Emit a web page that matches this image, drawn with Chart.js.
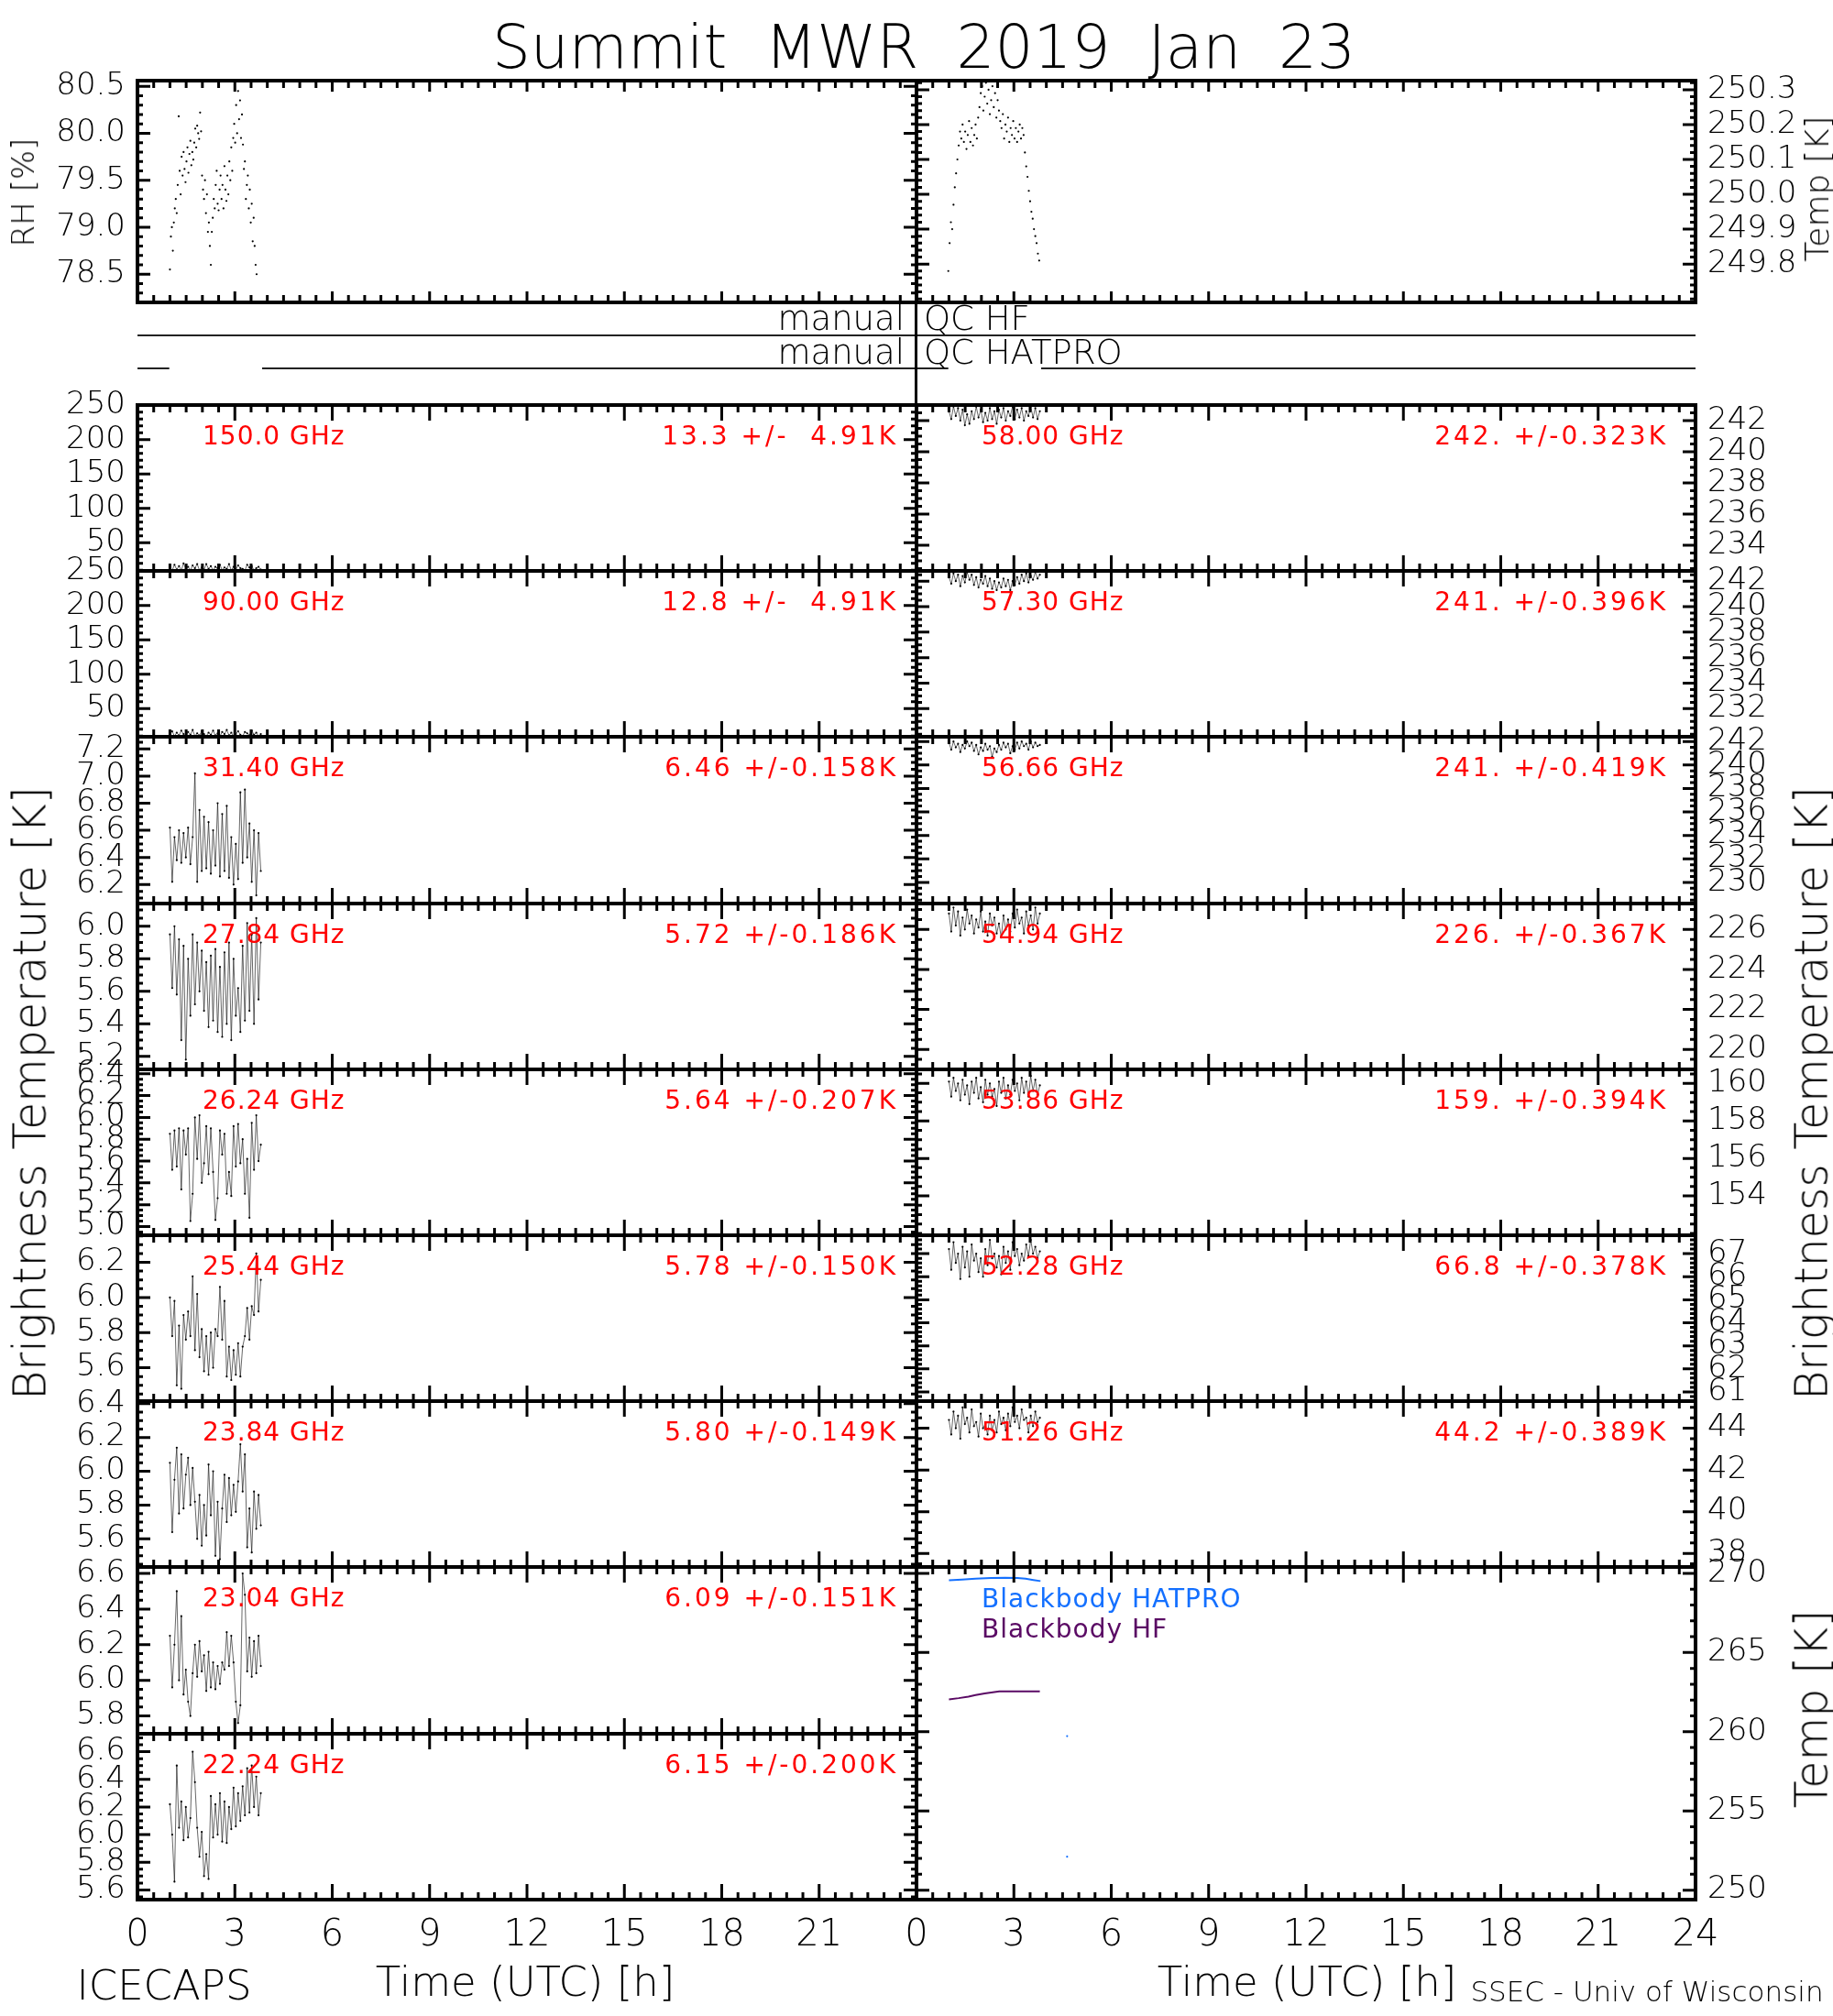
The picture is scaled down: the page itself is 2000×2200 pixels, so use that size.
<!DOCTYPE html>
<html>
<head>
<meta charset="utf-8">
<title>Summit MWR 2019 Jan 23</title>
<script src="https://cdn.jsdelivr.net/npm/chart.js@4.4.1/dist/chart.umd.min.js"></script>
<style>
  html, body { margin: 0; padding: 0; background: #fff; }
  #page { position: relative; width: 2000px; height: 2200px; overflow: hidden; font-family: 'DejaVu Sans', 'Liberation Sans', sans-serif; font-weight: 200; }
  #page canvas { position: absolute; }
  .t { position: absolute; white-space: pre; line-height: 1; color: #000; }
</style>
</head>
<body>
<div id="page"></div>
<script>
// sample times [h UTC] shared by the channel traces
const chTime = [1.00,1.07,1.14,1.21,1.28,1.35,1.42,1.49,1.56,1.63,1.70,1.77,1.84,1.91,1.98,2.05,2.12,2.19,2.26,2.33,2.40,2.47,2.54,2.61,2.68,2.75,2.82,2.89,2.96,3.03,3.10,3.17,3.24,3.31,3.38,3.45,3.52,3.59,3.66,3.73,3.80];

// HF / HATPRO low channels (left column)
const tb150  = [14,10,18,11,16,10,20,12,15,10,17,13,19,10,14,11,19,12,16,10,15,13,18,10,14,12,19,10,15,11,17,13,12,10,18,14,16,10,13,15,11];
const tb90   = [12,17,10,15,11,18,13,10,16,12,19,10,14,11,17,13,10,15,12,18,11,14,10,16,13,19,11,15,10,13,17,12,10,16,14,11,18,12,15,10,13];
const tb3140 = [6.62,6.22,6.55,6.38,6.60,6.36,6.58,6.40,6.62,6.35,6.55,7.02,6.22,6.75,6.30,6.70,6.32,6.66,6.28,6.60,6.34,6.80,6.26,6.72,6.30,6.78,6.25,6.55,6.20,6.50,6.24,6.88,6.36,6.90,6.40,6.65,6.22,6.60,6.12,6.58,6.30];
const tb2784 = [5.95,5.62,6.00,5.58,5.92,5.30,5.88,5.18,5.80,5.45,5.95,5.52,5.90,5.60,5.85,5.48,5.78,5.38,5.82,5.42,5.86,5.35,5.75,5.32,5.84,5.40,5.90,5.30,5.80,5.45,5.62,5.35,5.88,5.42,6.02,5.48,5.95,5.40,6.05,5.55,5.90];
const tb2624 = [5.85,5.52,5.88,5.55,5.90,5.34,5.88,5.66,5.90,5.05,5.30,6.00,5.62,6.02,5.40,5.58,5.92,5.48,5.90,5.50,5.06,5.26,5.88,5.66,5.85,5.30,5.50,5.28,5.92,5.55,5.94,5.58,5.80,5.30,5.62,5.08,5.95,5.52,6.02,5.60,5.75];
const tb2544 = [6.00,5.78,5.98,5.50,5.84,5.48,5.90,5.76,5.92,5.78,6.12,5.70,6.02,5.66,5.82,5.58,5.78,5.56,5.80,5.60,5.82,5.78,6.06,5.76,5.98,5.55,5.72,5.53,5.70,5.56,5.74,5.55,5.72,5.78,5.94,5.76,5.95,5.90,6.25,5.92,6.10];
const tb2384 = [6.05,5.64,5.95,6.14,5.75,6.10,5.78,5.98,6.08,5.80,6.02,5.82,5.60,5.86,5.56,5.80,5.62,6.04,5.74,6.00,5.50,5.82,5.48,5.78,5.98,5.70,5.96,5.74,5.92,5.76,5.94,6.16,5.88,6.10,5.55,5.78,5.52,5.88,5.66,5.86,5.68];
const tb2304 = [6.25,5.96,6.20,6.50,6.00,6.36,5.92,6.06,5.88,5.80,6.04,6.20,6.02,6.22,6.05,6.14,5.94,6.16,5.96,6.10,5.95,6.08,5.98,6.10,6.06,6.27,6.08,6.25,6.10,5.88,5.76,5.86,6.60,6.48,6.05,6.24,6.02,6.22,6.04,6.25,6.08];
const tb2224 = [6.22,6.00,5.66,6.50,6.05,6.24,5.96,6.20,5.98,6.12,6.60,6.38,6.05,5.84,6.02,5.70,5.86,5.68,6.28,5.98,6.22,6.00,6.30,5.95,6.24,5.94,6.20,6.04,6.34,6.06,6.30,6.10,6.35,6.14,6.48,6.16,6.50,6.20,6.42,6.14,6.30];

// oxygen band channels (right column)
const tb5800 = [242.6,242.1,242.9,242.3,242.8,242.0,242.7,241.7,242.4,241.8,242.6,242.1,242.9,242.2,242.7,241.9,242.5,242.0,242.8,242.1,242.6,241.8,242.7,242.2,242.8,242.0,242.6,242.3,242.9,242.1,242.7,242.2,242.8,242.0,242.6,242.3,242.9,242.2,242.8,242.1,242.6];
const tb5730 = [242.3,241.8,242.6,242.0,242.5,241.6,242.4,241.9,242.7,242.1,242.5,241.7,242.3,241.5,242.1,241.8,242.4,241.6,242.2,241.4,242.0,241.3,241.9,241.5,242.2,241.6,242.1,241.3,242.0,241.7,242.3,241.8,242.5,242.0,242.6,241.9,242.4,242.1,242.7,242.2,242.5];
const tb5666 = [241.9,241.3,242.0,241.5,241.8,241.1,241.7,241.4,242.0,241.6,241.9,241.2,241.7,240.9,241.5,241.2,241.8,241.3,241.6,240.7,241.4,241.1,241.7,241.3,241.9,241.5,241.8,241.0,241.6,241.3,241.9,241.4,242.0,241.6,241.8,241.3,242.0,241.5,241.9,241.6,241.7];
const tb5494 = [226.8,225.9,227.1,226.2,226.9,225.7,226.6,226.0,227.0,226.3,226.7,225.8,226.5,226.1,226.9,225.9,226.4,225.7,226.8,226.2,226.6,225.8,226.3,225.6,226.7,226.0,226.5,225.9,226.8,226.1,227.0,226.3,226.6,225.8,226.9,226.2,226.7,226.0,227.1,226.3,226.8];
const tb5386 = [160.1,159.3,160.3,159.6,160.0,159.1,160.2,159.4,159.9,158.9,160.1,159.5,160.3,159.2,159.8,159.0,160.2,159.4,160.0,159.3,159.7,158.8,160.1,159.5,160.3,159.2,159.9,159.4,160.2,159.6,160.0,159.1,160.3,159.5,160.1,159.3,160.4,159.6,160.2,159.4,159.9];
const tb5228 = [67.2,66.3,67.5,66.6,67.0,65.9,67.3,66.4,67.1,66.0,67.4,66.7,67.0,66.2,66.8,66.0,67.2,66.5,67.6,66.8,67.0,66.4,66.9,66.1,67.3,66.6,67.1,66.3,67.5,66.9,67.2,66.5,67.0,66.7,67.4,66.9,67.6,67.0,67.3,66.8,67.1];
const tb5126 = [44.4,43.7,44.8,44.0,44.6,43.5,45.0,44.2,44.5,43.8,44.9,44.1,44.3,43.6,44.7,44.0,44.2,43.7,44.6,43.9,44.4,43.8,44.8,44.2,44.5,43.9,44.7,44.1,45.0,44.3,44.6,44.0,44.9,44.4,44.5,43.8,44.6,44.1,44.8,44.3,44.5];

const leftNames  = ['150.0 GHz','90.00 GHz','31.40 GHz','27.84 GHz','26.24 GHz','25.44 GHz','23.84 GHz','23.04 GHz','22.24 GHz'];
const leftStats  = ['13.3 +/-  4.91K','12.8 +/-  4.91K','6.46 +/-0.158K','5.72 +/-0.186K','5.64 +/-0.207K','5.78 +/-0.150K','5.80 +/-0.149K','6.09 +/-0.151K','6.15 +/-0.200K'];
const rightNames = ['58.00 GHz','57.30 GHz','56.66 GHz','54.94 GHz','53.86 GHz','52.28 GHz','51.26 GHz'];
const rightStats = ['242. +/-0.323K','241. +/-0.396K','241. +/-0.419K','226. +/-0.367K','159. +/-0.394K','66.8 +/-0.378K','44.2 +/-0.389K'];

// surface met (top panel)
const rhTime = [1.00,1.03,1.06,1.09,1.12,1.15,1.18,1.21,1.24,1.27,1.30,1.33,1.36,1.39,1.42,1.45,1.48,1.51,1.54,1.57,1.60,1.63,1.66,1.69,1.72,1.75,1.78,1.81,1.84,1.87,1.90,1.93,1.96,1.99,2.02,2.05,2.08,2.11,2.14,2.17,2.20,2.23,2.26,2.29,2.32,2.35,2.38,2.41,2.44,2.47,2.50,2.53,2.56,2.59,2.62,2.65,2.68,2.71,2.74,2.77,2.80,2.83,2.86,2.89,2.92,2.95,2.98,3.01,3.04,3.07,3.10,3.13,3.16,3.19,3.22,3.25,3.28,3.31,3.34,3.37,3.40,3.43,3.46,3.49,3.52,3.55,3.58,3.61,3.64,3.67];
const rhVal  = [78.55,78.90,79.00,78.75,79.05,79.20,79.30,79.15,79.45,80.18,79.60,79.35,79.75,79.55,79.80,79.62,79.48,79.70,79.85,79.58,79.78,79.92,79.66,79.80,79.72,79.90,80.05,79.85,80.08,80.00,79.94,80.22,80.02,79.55,79.40,79.30,79.50,79.15,79.35,78.95,79.05,78.80,78.60,78.95,79.10,79.30,79.20,79.45,79.60,79.25,79.18,79.40,79.55,79.30,79.45,79.20,79.65,79.40,79.28,79.55,79.35,79.70,79.50,79.85,79.60,79.95,80.10,79.90,80.30,80.00,80.45,80.15,80.35,79.95,80.20,79.88,79.62,79.70,79.30,79.45,79.55,79.20,79.40,79.05,79.25,78.85,79.10,78.80,78.60,78.50];
const tempTime = [0.98,1.02,1.06,1.10,1.14,1.18,1.22,1.26,1.30,1.34,1.38,1.42,1.46,1.50,1.54,1.58,1.62,1.66,1.70,1.74,1.78,1.82,1.86,1.90,1.94,1.98,2.02,2.06,2.10,2.14,2.18,2.22,2.26,2.30,2.34,2.38,2.42,2.46,2.50,2.54,2.58,2.62,2.66,2.70,2.74,2.78,2.82,2.86,2.90,2.94,2.98,3.02,3.06,3.10,3.14,3.18,3.22,3.26,3.30,3.34,3.38,3.42,3.46,3.50,3.54,3.58,3.62,3.66,3.70,3.74,3.78];
const tempVal  = [249.78,249.86,249.92,249.90,249.97,250.02,250.06,250.10,250.14,250.18,250.16,250.20,250.15,250.18,250.13,250.17,250.21,250.15,250.19,250.14,250.17,250.20,250.16,250.22,250.25,250.29,250.31,250.24,250.28,250.32,250.26,250.30,250.23,250.27,250.31,250.25,250.29,250.22,250.27,250.24,250.21,250.19,250.23,250.16,250.20,250.18,250.22,250.15,250.19,250.17,250.21,250.16,250.19,250.15,250.18,250.20,250.16,250.19,250.17,250.12,250.08,250.05,250.01,249.98,249.95,249.93,249.90,249.88,249.86,249.83,249.81];

// quality control flags (1 = HF line, 0 = HATPRO line, null = flagged gap)
const qcHfTime  = [0, 24];
const qcHfFlag  = [1, 1];
const qcHatTime = [0, 0.98, 0.98, 3.84, 24];
const qcHatFlag = [0, 0, null, 0, 0];

// blackbody temperatures
const bbHatTime = [1.00,1.40,1.82,2.30,2.73,3.10,3.36,3.60,3.82];
const bbHatVal  = [269.56,269.61,269.66,269.70,269.72,269.70,269.66,269.58,269.51];
const bbHfTime  = [1.00,1.30,1.60,1.82,2.10,2.40,2.55,3.00,3.40,3.80];
const bbHfVal   = [262.04,262.12,262.22,262.31,262.42,262.50,262.54,262.55,262.55,262.54];
const bbDotTime = [4.64, 4.64];
const bbDotVal  = [259.72, 252.11];

const hourTicks = [0, 3, 6, 9, 12, 15, 18, 21, 24];

Chart.defaults.font.family = "'DejaVu Sans', 'Liberation Sans', sans-serif";
Chart.defaults.font.weight = '200';
Chart.defaults.color = '#000';

const page = document.getElementById('page');

function text(str, x, y, size, align, o) {
  o = o || {};
  const d = document.createElement('div');
  d.className = 't';
  d.textContent = str;
  d.style.left = x + 'px';
  d.style.top = y + 'px';
  d.style.fontSize = size + 'px';
  const tx = align === 'left' ? '0' : align === 'right' ? '-100%' : '-50%';
  d.style.transform = 'translate(' + tx + ', -50%)' + (o.rot ? ' rotate(-90deg)' : '');
  if (o.color) d.style.color = o.color;
  if (o.ls) d.style.letterSpacing = o.ls + 'px';
  if (o.ws) d.style.wordSpacing = o.ws + 'px';
  if (o.weight) d.style.fontWeight = o.weight;
  page.appendChild(d);
}

// IDL style box: thick frame, inward ticks on all four sides
const idlFrame = {
  id: 'idlFrame',
  afterDraw(chart, args, o) {
    if (!o || !o.on) return;
    const ctx = chart.ctx, a = chart.chartArea;
    const xs = chart.scales.x, ys = chart.scales.y;
    ctx.save();
    ctx.strokeStyle = '#000';
    ctx.lineWidth = 3;
    ctx.beginPath();
    for (let k = 0; k <= 48; k++) {
      const px = xs.getPixelForValue(k * 0.5);
      const len = k % 6 === 0 ? o.majX : 8;
      ctx.moveTo(px, a.top); ctx.lineTo(px, a.top + len);
      ctx.moveTo(px, a.bottom); ctx.lineTo(px, a.bottom - len);
    }
    const m = o.yMinor;
    const majors = ys.ticks.map(t => t.value);
    const k0 = Math.ceil(ys.min / m - 1e-6), k1 = Math.floor(ys.max / m + 1e-6);
    for (let k = k0; k <= k1; k++) {
      const v = k * m;
      const py = ys.getPixelForValue(v);
      const len = majors.some(t => Math.abs(t - v) < m / 10) ? 14 : 6;
      ctx.moveTo(a.left, py); ctx.lineTo(a.left + len, py);
      ctx.moveTo(a.right, py); ctx.lineTo(a.right - len, py);
    }
    ctx.stroke();
    ctx.lineWidth = 4;
    ctx.strokeRect(a.left, a.top, a.right - a.left, a.bottom - a.top);
    ctx.restore();
  }
};

function pts(t, v) { return t.map((x, i) => ({ x: x, y: v[i] })); }
function trace(t, v) {
  return { data: pts(t, v), showLine: true, borderColor: 'rgba(0,0,0,0.75)', borderWidth: 0.8,
           pointRadius: 1.1, pointBackgroundColor: '#000', pointBorderWidth: 0 };
}
function dots(t, v, color) {
  return { data: pts(t, v), showLine: false, pointRadius: 1.1, pointBackgroundColor: color, pointBorderWidth: 0 };
}
function curve(t, v, color) {
  return { data: pts(t, v), showLine: true, borderColor: color, borderWidth: 2, pointRadius: 0 };
}

function addPanel(p) {
  const padL = p.side === 'left' ? 150 : 40;
  const padR = p.side === 'right' ? 150 : 40;
  const padT = 40, padB = p.xTicks ? 80 : 40;
  const cv = document.createElement('canvas');
  cv.width = (p.x1 - p.x0) + padL + padR;
  cv.height = (p.y1 - p.y0) + padT + padB;
  cv.style.left = (p.x0 - padL) + 'px';
  cv.style.top = (p.y0 - padT) + 'px';
  page.appendChild(cv);
  const xScale = {
    type: 'linear', min: 0, max: 24, position: 'bottom', display: !!p.xTicks,
    grid: { display: false, drawTicks: false }, border: { display: false },
    afterBuildTicks: s => { s.ticks = hourTicks.map(v => ({ value: v })); },
    ticks: { autoSkip: false, maxRotation: 0, padding: 16, font: { size: 40 }, color: '#000',
             callback: v => (p.xTicks === 'noLast' && v === 24) ? '' : String(v) }
  };
  if (p.xTicks) xScale.afterFit = s => { s.height = padB; };
  return new Chart(cv, {
    type: 'scatter',
    data: { datasets: p.datasets },
    options: {
      responsive: false, animation: false, events: [],
      layout: { padding: { left: p.side === 'left' ? 0 : padL, right: p.side === 'right' ? 0 : padR,
                           top: padT, bottom: p.xTicks ? 0 : padB } },
      plugins: { legend: { display: false }, tooltip: { enabled: false },
                 idlFrame: { on: true, majX: p.majX || 17, yMinor: p.yMinor } },
      scales: {
        x: xScale,
        y: {
          type: 'linear', min: p.yMin, max: p.yMax, position: p.side, display: true,
          grid: { display: false, drawTicks: false }, border: { display: false },
          afterBuildTicks: s => { s.ticks = p.yTicks.map(v => ({ value: v })); },
          afterFit: s => { s.width = p.side === 'right' ? padR : padL; },
          ticks: { autoSkip: false, padding: 13, font: { size: 34 }, color: '#000',
                   callback: v => Number(v).toFixed(p.dec) }
        }
      }
    },
    plugins: [idlFrame]
  });
}

function addQc(x0, x1) {
  const cv = document.createElement('canvas');
  cv.width = x1 - x0; cv.height = 72;
  cv.style.left = x0 + 'px'; cv.style.top = '348px';
  page.appendChild(cv);
  new Chart(cv, {
    type: 'scatter',
    data: { datasets: [curve(qcHfTime, qcHfFlag, '#222'), curve(qcHatTime, qcHatFlag, '#222')] },
    options: {
      responsive: false, animation: false, events: [],
      layout: { padding: 0 },
      plugins: { legend: { display: false }, tooltip: { enabled: false } },
      datasets: { scatter: { borderWidth: 1.5 } },
      scales: { x: { display: false, min: 0, max: 24 }, y: { display: false, min: -0.5, max: 1.5 } }
    }
  });
}

// ---- layout ----
const B = [442, 623, 804, 986, 1167, 1348, 1529, 1710, 1892, 2073];

const leftCfg = [
  { vals: tb150,  yMin: 9,     yMax: 250.5,  yTicks: [50,100,150,200,250], dec: 0, yMinor: 10 },
  { vals: tb90,   yMin: 9,     yMax: 250.5,  yTicks: [50,100,150,200,250], dec: 0, yMinor: 10 },
  { vals: tb3140, yMin: 6.06,  yMax: 7.29,   yTicks: [6.2,6.4,6.6,6.8,7.0,7.2], dec: 1, yMinor: 0.05 },
  { vals: tb2784, yMin: 5.12,  yMax: 6.14,   yTicks: [5.2,5.4,5.6,5.8,6.0], dec: 1, yMinor: 0.05 },
  { vals: tb2624, yMin: 4.92,  yMax: 6.44,   yTicks: [5.0,5.2,5.4,5.6,5.8,6.0,6.2,6.4], dec: 1, yMinor: 0.05 },
  { vals: tb2544, yMin: 5.41,  yMax: 6.354,  yTicks: [5.6,5.8,6.0,6.2], dec: 1, yMinor: 0.05 },
  { vals: tb2384, yMin: 5.434, yMax: 6.415,  yTicks: [5.6,5.8,6.0,6.2,6.4], dec: 1, yMinor: 0.05 },
  { vals: tb2304, yMin: 5.70,  yMax: 6.636,  yTicks: [5.8,6.0,6.2,6.4,6.6], dec: 1, yMinor: 0.05 },
  { vals: tb2224, yMin: 5.53,  yMax: 6.73,   yTicks: [5.6,5.8,6.0,6.2,6.4,6.6], dec: 1, yMinor: 0.05 }
];
const rightCfg = [
  { vals: tb5800, yMin: 232.35, yMax: 243.0,  yTicks: [234,236,238,240,242], dec: 0, yMinor: 0.5 },
  { vals: tb5730, yMin: 229.8,  yMax: 242.8,  yTicks: [232,234,236,238,240,242], dec: 0, yMinor: 0.5 },
  { vals: tb5666, yMin: 228.2,  yMax: 242.4,  yTicks: [230,232,234,236,238,240,242], dec: 0, yMinor: 0.5 },
  { vals: tb5494, yMin: 219.0,  yMax: 227.3,  yTicks: [220,222,224,226], dec: 0, yMinor: 0.5 },
  { vals: tb5386, yMin: 151.9,  yMax: 160.75, yTicks: [154,156,158,160], dec: 0, yMinor: 0.5 },
  { vals: tb5228, yMin: 60.6,   yMax: 67.8,   yTicks: [61,62,63,64,65,66,67], dec: 0, yMinor: 0.2 },
  { vals: tb5126, yMin: 37.35,  yMax: 45.3,   yTicks: [38,40,42,44], dec: 0, yMinor: 0.5 }
];

// top panel: RH (left half) and air temperature (right half)
addPanel({ x0: 150, x1: 1000, y0: 88, y1: 330, side: 'left', majX: 12,
           yMin: 78.2, yMax: 80.56, yTicks: [78.5,79.0,79.5,80.0,80.5], dec: 1, yMinor: 0.1,
           datasets: [dots(rhTime, rhVal, '#000')] });
addPanel({ x0: 1000, x1: 1850, y0: 88, y1: 330, side: 'right', majX: 12,
           yMin: 249.69, yMax: 250.326, yTicks: [249.8,249.9,250.0,250.1,250.2,250.3], dec: 1, yMinor: 0.02,
           datasets: [dots(tempTime, tempVal, '#000')] });

addQc(150, 1000);
addQc(1000, 1850);

const RED = '#ff0000';
leftCfg.forEach((c, i) => {
  addPanel({ x0: 150, x1: 1000, y0: B[i], y1: B[i + 1], side: 'left', xTicks: i === 8 ? 'noLast' : null,
             yMin: c.yMin, yMax: c.yMax, yTicks: c.yTicks, dec: c.dec, yMinor: c.yMinor,
             datasets: [trace(chTime, c.vals)] });
  text(leftNames[i], 221, B[i] + 34, 28, 'left', { color: RED, ls: 1, weight: 400 });
  text(leftStats[i], 980, B[i] + 34, 28, 'right', { color: RED, ls: 3, weight: 400 });
});
rightCfg.forEach((c, i) => {
  addPanel({ x0: 1000, x1: 1850, y0: B[i], y1: B[i + 1], side: 'right',
             yMin: c.yMin, yMax: c.yMax, yTicks: c.yTicks, dec: c.dec, yMinor: c.yMinor,
             datasets: [trace(chTime, c.vals)] });
  text(rightNames[i], 1071, B[i] + 34, 28, 'left', { color: RED, ls: 1, weight: 400 });
  text(rightStats[i], 1820, B[i] + 34, 28, 'right', { color: RED, ls: 3, weight: 400 });
});

// blackbody panel (double height)
addPanel({ x0: 1000, x1: 1850, y0: B[7], y1: B[9], side: 'right', xTicks: 'all',
           yMin: 249.4, yMax: 270.4, yTicks: [250,255,260,265,270], dec: 0, yMinor: 1,
           datasets: [curve(bbHatTime, bbHatVal, '#1470ff'), curve(bbHfTime, bbHfVal, '#5a0a64'),
                      dots(bbDotTime, bbDotVal, '#1470ff')] });
text('Blackbody HATPRO', 1071, 1745, 28, 'left', { color: '#1470ff', ls: 1, weight: 400 });
text('Blackbody HF', 1071, 1778, 28, 'left', { color: '#5a0a64', ls: 1, weight: 400 });

// divider through the QC strip
const dv = document.createElement('div');
dv.style.cssText = 'position:absolute;left:998px;top:330px;width:3px;height:114px;background:#000;';
page.appendChild(dv);

// labels
text('Summit MWR 2019 Jan 23', 1008, 52, 66, 'center', { ws: 20 });
text('manual', 987, 347, 37, 'right');
text('manual', 987, 384, 37, 'right');
text('QC HF', 1008, 347, 37, 'left');
text('QC HATPRO', 1008, 384, 37, 'left');
text('RH [%]', 25, 210, 34, 'center', { rot: true });
text('Temp [K]', 1983, 206, 36, 'center', { rot: true });
text('Brightness Temperature [K]', 33, 1193, 49, 'center', { rot: true });
text('Brightness Temperature [K]', 1977, 1193, 49, 'center', { rot: true });
text('Temp [K]', 1977, 1865, 49, 'center', { rot: true });
text('Time (UTC) [h]', 573, 2162, 45, 'center');
text('Time (UTC) [h]', 1426, 2162, 45, 'center');
text('ICECAPS', 179, 2166, 45, 'center');
text('SSEC - Univ of Wisconsin', 1797, 2173, 31, 'center');
</script>
</body>
</html>
